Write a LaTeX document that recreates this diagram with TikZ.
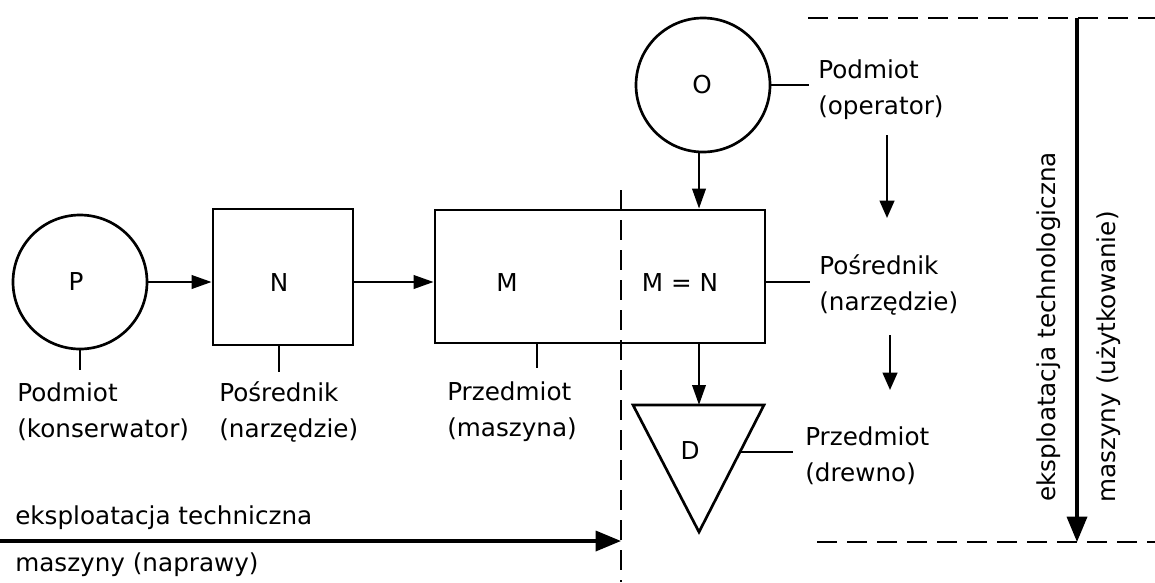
\documentclass[tikz,border=0pt]{standalone}
\usepackage{fontspec}
\setmainfont{DejaVu Sans}
\usetikzlibrary{arrows.meta,calc}
\begin{document}
\begin{tikzpicture}[x=0.75pt,y=-0.75pt,
  lw/.style={line width=2pt},
  arr/.style={lw,-{Triangle[length=15pt,width=10pt]}},
  thinarr/.style={line width=1.6pt,-{Triangle[length=13pt,width=11pt]}},
  bigarr/.style={line width=2.6pt,-{Triangle[length=19pt,width=15pt]}},
  dashline/.style={line width=1.7pt,dash pattern=on 15pt off 7.5pt},
  circ/.style={circle,draw,lw,minimum size=100.5pt,inner sep=0pt},
  boxs/.style={rectangle,draw,lw,inner sep=0pt},
  lbl/.style={font=\fontsize{18.5}{27}\selectfont,inner sep=0pt},
  txt/.style={lbl,align=left,anchor=west}
]
\useasboundingbox (0,0) rectangle (1155,582);

% main nodes
\node[circ] (P) at (80,282) {};
\node[lbl] (Pl) at (76,282) {P};
\node[boxs,minimum width=105pt,minimum height=102pt] (Nb) at (283,277) {};
\node[lbl] (Nl) at (279,283) {N};
\node[boxs,minimum width=247.5pt,minimum height=99.75pt] (Mb) at (600,276.5) {};
\node[lbl] (Ml) at (507,283) {M};
\node[lbl] (MNl) at (680,283) {M = N};
\node[circ] (O) at (703,85) {};
\node[lbl] (Ol) at (702,85) {O};

% triangle D
\coordinate (T1) at (633,405);
\coordinate (T2) at (764,405);
\coordinate (T3) at (699,532);
\coordinate (Dtop) at (699,405);
\draw[lw,line join=miter] (T1) -- (T2) -- (T3) -- cycle;
\node[lbl] (Dl) at (690,450) {D};
\coordinate (Dr) at ($(T2)!0.37!(T3)$);

% labels
\node[txt] (lP) at (17,412) {Podmiot\\(konserwator)};
\node[txt] (lN) at (219,412) {Pośrednik\\(narzędzie)};
\node[txt] (lM) at (447,412) {Przedmiot\\(maszyna)};
\node[txt] (lO) at (818,90) {Podmiot\\(operator)};
\node[txt] (lMN) at (819,285) {Pośrednik\\(narzędzie)};
\node[txt] (lD) at (805,456) {Przedmiot\\(drewno)};
\node[lbl,anchor=west] (b1) at (15,518) {eksploatacja techniczna};
\node[lbl,anchor=west] (b2) at (15,565) {maszyny (naprawy)};
\node[lbl,rotate=90] (et) at (1049,327) {eksploatacja technologiczna};
\node[lbl,rotate=90] (mu) at (1109,357) {maszyny (użytkowanie)};

% ticks to labels
\draw[lw] (P.south) -- ++(0,20);
\draw[lw] (Nb.south -| Nl) -- ++(0,26);
\draw[lw] ($(Mb.south)+(-63,0)$) -- ++(0,24);
\draw[lw] (O.east) -- ++(38,0);
\draw[lw] (Mb.east |- P) -- ++(44,0);
\draw[lw] (Dr) -- ++(53,0);

% arrows
\draw[arr] (P.east) -- (Nb.west |- P);
\draw[arr] (Nb.east |- P) -- (Mb.west |- P);
\draw[arr] (O.south -| Dtop) -- (Mb.north -| Dtop);
\draw[arr] (Mb.south -| Dtop) -- (Dtop);

\coordinate (a1s) at (887,135);
\coordinate (a1e) at (887,218);
\coordinate (a2s) at (890,335);
\coordinate (a2e) at (890,390);
\draw[thinarr] (a1s) -- (a1e);
\draw[thinarr] (a2s) -- (a2e);

% dashed lines
\coordinate (V1) at (621,190);
\coordinate (V2) at (621,582);
\draw[dashline] (V1) -- (V2);
\coordinate (H1a) at (808,18);
\coordinate (H1b) at (1155,18);
\coordinate (H2a) at (817,542);
\coordinate (H2b) at (1155,542);
\draw[dashline] (H1a) -- (H1b);
\draw[dashline] (H2a) -- (H2b);

% big arrows
\coordinate (B0) at (0,541);
\draw[bigarr] (B0) -- (B0 -| V1);
\coordinate (R1) at (1077,18);
\draw[bigarr] (R1) -- (R1 |- H2a);
\end{tikzpicture}
\end{document}
